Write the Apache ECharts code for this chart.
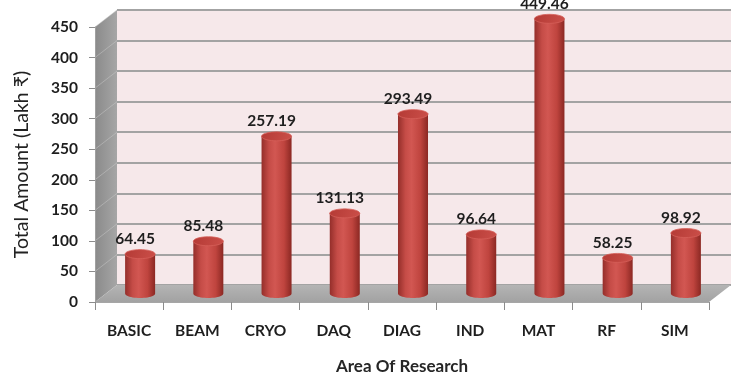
<!DOCTYPE html>
<html>
<head>
<meta charset="utf-8">
<script src="https://cdn.jsdelivr.net/npm/echarts@6/dist/echarts.min.js"></script>
<style>
  html, body { margin: 0; padding: 0; background: #ffffff; }
  #chart { width: 738px; height: 381px; }
</style>
</head>
<body>
<div id="chart"></div>
<script>
// Research areas and the total amount spent on each (Lakh ₹)
const categories = ['BASIC', 'BEAM', 'CRYO', 'DAQ', 'DIAG', 'IND', 'MAT', 'RF', 'SIM'];
const amounts = [64.45, 85.48, 257.19, 131.13, 293.49, 96.64, 449.46, 58.25, 98.92];
const yTicks = [0, 50, 100, 150, 200, 250, 300, 350, 400, 450];

const FONT = 'Lato, "Noto Sans", "DejaVu Sans", sans-serif';
const TEXT = '#1e1e1e';

// 3D depth of the plot box: back wall is shifted right and up from the front plane
const DEPTH_X = 22;
const DEPTH_Y = -17;

const chart = echarts.init(document.getElementById('chart'), null, { renderer: 'canvas' });

function ellipsePoints(cx, cy, rx, ry, a0, a1, n) {
  const pts = [];
  for (let i = 0; i <= n; i++) {
    const a = a0 + (a1 - a0) * i / n;
    pts.push([cx + rx * Math.cos(a), cy + ry * Math.sin(a)]);
  }
  return pts;
}

// Side wall and floor of the box, built from the front grid rectangle
function renderBox(params, api) {
  const cs = params.coordSys;
  const L = cs.x, T = cs.y, R = cs.x + cs.width, B = cs.y + cs.height;
  const children = [];
  children.push({
    type: 'polygon',
    shape: { points: [[L, T], [L + DEPTH_X, T + DEPTH_Y], [L + DEPTH_X, B + DEPTH_Y], [L, B]] },
    style: {
      fill: new echarts.graphic.LinearGradient(0, 0, 1, 0, [
        { offset: 0, color: '#8a8a8a' },
        { offset: 1, color: '#a6a6a6' }
      ])
    }
  });
  // faint slanted grid lines on the side wall
  yTicks.forEach(function (v) {
    const p = api.coord([0, v]);
    if (v === 0) return;
    children.push({
      type: 'line',
      shape: { x1: L, y1: p[1], x2: L + DEPTH_X, y2: p[1] + DEPTH_Y },
      style: { stroke: 'rgba(200,200,200,0.5)', lineWidth: 1 }
    });
  });
  children.push({
    type: 'polygon',
    shape: { points: [[L, B], [L + DEPTH_X, B + DEPTH_Y], [R + DEPTH_X, B + DEPTH_Y], [R, B]] },
    style: {
      fill: new echarts.graphic.LinearGradient(0, 0, 0, 1, [
        { offset: 0, color: '#b4b4b4' },
        { offset: 1, color: '#a2a2a2' }
      ])
    }
  });
  return { type: 'group', children: children };
}

// A cylinder standing at mid-depth of the box, with its value written above it
function renderCylinder(params, api) {
  const idx = api.value(0);
  const val = api.value(1);
  const top = api.coord([idx, val]);
  const base = api.coord([idx, 0]);
  const band = api.size([1, 0])[0];
  const rx = band * 0.22;
  const ry = rx * 0.3;
  const cx = top[0] + DEPTH_X / 2;
  const yTop = top[1] + DEPTH_Y / 2;
  const yBase = base[1] + DEPTH_Y / 2;

  const bodyPts = [[cx - rx, yTop], [cx - rx, yBase]]
    .concat(ellipsePoints(cx, yBase, rx, ry, Math.PI, 0, 24).map(function (p) {
      return [p[0], yBase + Math.abs(p[1] - yBase)];
    }))
    .concat([[cx + rx, yTop]]);

  const bodyFill = new echarts.graphic.LinearGradient(0, 0, 1, 0, [
    { offset: 0, color: '#942e2a' },
    { offset: 0.25, color: '#c54c47' },
    { offset: 0.45, color: '#d25752' },
    { offset: 0.75, color: '#bf443e' },
    { offset: 1, color: '#8b2823' }
  ]);

  return {
    type: 'group',
    children: [
      { type: 'polygon', shape: { points: bodyPts }, style: { fill: bodyFill } },
      {
        type: 'polygon',
        shape: { points: ellipsePoints(cx, yTop, rx, ry, 0, Math.PI * 2, 36) },
        style: {
          fill: new echarts.graphic.LinearGradient(0, 0, 1, 1, [
            { offset: 0, color: '#b43a35' },
            { offset: 1, color: '#cb4f49' }
          ]),
          stroke: '#d55f59', lineWidth: 0.8
        }
      },
      {
        type: 'text',
        x: cx - 5,
        y: yTop - 7,
        style: {
          text: val.toFixed(2),
          fill: TEXT,
          font: 'bold 15.5px ' + FONT,
          align: 'center',
          verticalAlign: 'bottom'
        }
      }
    ]
  };
}

const option = {
  animation: false,
  backgroundColor: '#ffffff',
  grid: [
    // front plane: axes, ticks and labels
    { left: 95, right: 29, top: 27, bottom: 79, show: false },
    // back wall of the box
    { left: 95 + DEPTH_X, right: 29 - DEPTH_X, top: 27 + DEPTH_Y, bottom: 79 - DEPTH_Y,
      show: true, backgroundColor: '#f6e8ea', borderWidth: 0 }
  ],
  xAxis: [
    {
      type: 'category', gridIndex: 0, data: categories,
      name: 'Area Of Research', nameLocation: 'middle', nameGap: 56,
      nameTextStyle: { fontFamily: FONT, fontWeight: 'bold', fontSize: 17, color: '#262626' },
      axisLine: { show: true, lineStyle: { color: '#a6a6a6', width: 1 } },
      axisTick: { show: true, alignWithLabel: false, length: 8, lineStyle: { color: '#8c8c8c' } },
      axisLabel: { fontFamily: FONT, fontWeight: 'bold', fontSize: 15.5, color: TEXT, margin: 21 },
      splitLine: { show: false }, z: 5
    },
    {
      type: 'category', gridIndex: 1, data: categories, show: false
    }
  ],
  yAxis: [
    {
      type: 'value', gridIndex: 0, min: 0, max: 450, interval: 50,
      name: 'Total Amount (Lakh ₹)', nameLocation: 'middle', nameGap: 63,
      nameTextStyle: { fontFamily: FONT, fontSize: 19.5, color: '#222222' },
      axisLine: { show: true, lineStyle: { color: '#a0a0a0' } },
      axisTick: { show: true, length: 6, lineStyle: { color: '#8c8c8c' } },
      axisLabel: { fontFamily: FONT, fontWeight: 'bold', fontSize: 15.5, color: TEXT, margin: 17 },
      splitLine: { show: false }, z: 5
    },
    {
      type: 'value', gridIndex: 1, min: 0, max: 450, interval: 50,
      axisLine: { show: false }, axisTick: { show: false }, axisLabel: { show: false },
      splitLine: { show: true, lineStyle: { color: '#a3a3a3', width: 2 } }
    }
  ],
  series: [
    {
      type: 'custom', xAxisIndex: 0, yAxisIndex: 0, z: 2,
      data: [[0, 0]], renderItem: renderBox, silent: true
    },
    {
      type: 'custom', xAxisIndex: 0, yAxisIndex: 0, z: 4,
      data: amounts.map(function (v, i) { return [i, v]; }),
      renderItem: renderCylinder
    }
  ]
};

chart.setOption(option);
</script>
</body>
</html>
